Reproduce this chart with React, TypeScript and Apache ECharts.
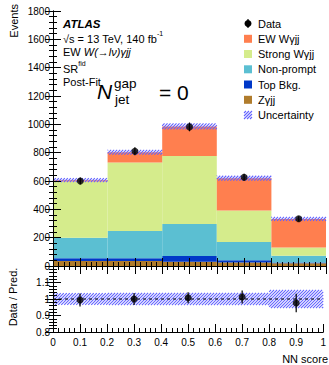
import React, { useEffect, useRef } from 'react';
import * as echarts from 'echarts';

// ---- data ----
const binEdges = [0, 0.2, 0.4, 0.6, 0.8, 1.0];
const binCenters = [0.1, 0.3, 0.5, 0.7, 0.9];
const zgjj = [35, 35, 30, 25, 20];
const topBkg = [20, 20, 40, 15, 5];
const nonPrompt = [145, 192, 227, 130, 48];
const strongWgjj = [396, 483, 480, 221, 57];
const ewWgjj = [10, 73, 208, 229, 202];
const dataVals = [600, 810, 982, 627, 333];
const dataErr = [25, 28, 31, 25, 18];
const predUnc = [14, 17, 21, 17, 14];
const ratioVals = [0.994, 1.0, 1.008, 1.012, 0.976];
const ratioErr = [0.04, 0.037, 0.033, 0.04, 0.056];
const ratioUnc = [0.035, 0.037, 0.037, 0.037, 0.055];

const FONT = 'Liberation Sans, Arial, Helvetica, sans-serif';
const HATCH = '#6262ff';
const COLORS = {
  zgjj: '#b07c2c',
  top: '#0038c8',
  np: '#5bbfd2',
  strong: '#d5ec8c',
  ew: '#ff7f4f',
};

const components = [
  { name: 'Zγjj', vals: zgjj, color: COLORS.zgjj },
  { name: 'Top Bkg.', vals: topBkg, color: COLORS.top },
  { name: 'Non-prompt', vals: nonPrompt, color: COLORS.np },
  { name: 'Strong Wγjj', vals: strongWgjj, color: COLORS.strong },
  { name: 'EW Wγjj', vals: ewWgjj, color: COLORS.ew },
];

function rectItem(color: string) {
  return (params: any, api: any) => {
    const a = api.coord([api.value(0), api.value(3)]);
    const b = api.coord([api.value(1), api.value(2)]);
    return {
      type: 'rect',
      shape: { x: a[0], y: a[1], width: b[0] - a[0], height: b[1] - a[1] },
      style: { fill: color },
    };
  };
}

function hatchItem(params: any, api: any) {
  const a = api.coord([api.value(0), api.value(3)]);
  const b = api.coord([api.value(1), api.value(2)]);
  const x0 = a[0], y0 = a[1], x1 = b[0], y1 = b[1];
  const sp = 3;
  const children: any[] = [];
  const cmin = x0 + y0, cmax = x1 + y1;
  for (let c = Math.ceil(cmin / sp) * sp; c <= cmax; c += sp) {
    const px0 = Math.max(x0, c - y1);
    const px1 = Math.min(x1, c - y0);
    if (px1 - px0 < 0.3) continue;
    children.push({
      type: 'line',
      shape: { x1: px0, y1: c - px0, x2: px1, y2: c - px1 },
      style: { stroke: HATCH, lineWidth: 1.1 },
    });
  }
  return { type: 'group', children };
}

function errItem(params: any, api: any) {
  const x = api.value(0), y = api.value(1), e = api.value(2);
  const t = api.coord([x, y + e]);
  const b = api.coord([x, y - e]);
  return {
    type: 'line',
    shape: { x1: t[0], y1: t[1], x2: b[0], y2: b[1] },
    style: { stroke: '#000', lineWidth: 1.2 },
  };
}

const fmt1 = (v: number) => String(Math.round(v * 10) / 10);

function buildOption() {
  const series: any[] = [];
  const cum = [0, 0, 0, 0, 0];
  components.forEach((c) => {
    const items = c.vals.map((v, i) => {
      const it = [binEdges[i], binEdges[i + 1], cum[i], cum[i] + v];
      cum[i] += v;
      return it;
    });
    series.push({
      type: 'custom',
      name: c.name,
      xAxisIndex: 0,
      yAxisIndex: 0,
      renderItem: rectItem(c.color),
      encode: { x: [0, 1], y: [2, 3] },
      data: items,
      silent: true,
      z: 2,
    });
  });
  const totals = cum.slice();
  series.push({
    type: 'custom',
    name: 'Uncertainty',
    xAxisIndex: 0,
    yAxisIndex: 0,
    renderItem: hatchItem,
    encode: { x: [0, 1], y: [2, 3] },
    data: totals.map((t, i) => [binEdges[i], binEdges[i + 1], t - predUnc[i], t + predUnc[i]]),
    silent: true,
    z: 3,
  });
  series.push({
    type: 'custom',
    xAxisIndex: 0,
    yAxisIndex: 0,
    renderItem: errItem,
    encode: { x: 0, y: 1 },
    data: binCenters.map((x, i) => [x, dataVals[i], dataErr[i]]),
    silent: true,
    z: 4,
  });
  series.push({
    type: 'scatter',
    name: 'Data',
    xAxisIndex: 0,
    yAxisIndex: 0,
    symbol: 'circle',
    symbolSize: 7,
    itemStyle: { color: '#000' },
    data: binCenters.map((x, i) => [x, dataVals[i]]),
    silent: true,
    z: 5,
  });
  // ratio panel
  series.push({
    type: 'custom',
    xAxisIndex: 2,
    yAxisIndex: 2,
    renderItem: hatchItem,
    encode: { x: [0, 1], y: [2, 3] },
    data: ratioUnc.map((u, i) => [binEdges[i], binEdges[i + 1], 1 - u, 1 + u]),
    silent: true,
    z: 3,
  });
  series.push({
    type: 'line',
    xAxisIndex: 2,
    yAxisIndex: 2,
    data: [[0, 1], [1, 1]],
    symbol: 'none',
    lineStyle: { color: '#000', width: 1, type: [3, 3] },
    silent: true,
    z: 4,
  });
  series.push({
    type: 'custom',
    xAxisIndex: 2,
    yAxisIndex: 2,
    renderItem: errItem,
    encode: { x: 0, y: 1 },
    data: binCenters.map((x, i) => [x, ratioVals[i], ratioErr[i]]),
    silent: true,
    z: 4,
  });
  series.push({
    type: 'scatter',
    xAxisIndex: 2,
    yAxisIndex: 2,
    symbol: 'circle',
    symbolSize: 7,
    itemStyle: { color: '#000' },
    data: binCenters.map((x, i) => [x, ratioVals[i]]),
    silent: true,
    z: 5,
  });

  const axisLine = { show: true, lineStyle: { color: '#000', width: 1 } };
  const tick = { show: true, inside: true, length: 8, lineStyle: { color: '#000', width: 1 } };
  const minor = { show: true, splitNumber: 5, length: 4, lineStyle: { color: '#000', width: 1 } };
  const noTick = { show: false };

  const xBase = {
    type: 'value',
    min: 0,
    max: 1,
    interval: 0.1,
    splitLine: { show: false },
    axisLine,
    z: 10,
  };
  const xAxis = [
    { ...xBase, gridIndex: 0, position: 'bottom', axisTick: tick, minorTick: minor, axisLabel: { show: false } },
    { ...xBase, gridIndex: 0, position: 'top', axisTick: tick, minorTick: minor, axisLabel: { show: false } },
    {
      ...xBase,
      gridIndex: 1,
      position: 'bottom',
      axisTick: tick,
      minorTick: minor,
      axisLabel: {
        show: true,
        margin: 5,
        fontSize: 10,
        fontFamily: FONT,
        color: '#000',
        formatter: fmt1,
      },
    },
    { ...xBase, gridIndex: 1, position: 'top', axisTick: noTick, minorTick: noTick, axisLabel: { show: false } },
  ];
  const yMain = {
    type: 'value',
    min: 0,
    max: 1800,
    interval: 200,
    splitLine: { show: false },
    axisLine,
    axisTick: tick,
    minorTick: minor,
    z: 10,
  };
  const yRatio = {
    type: 'value',
    min: 0.8,
    max: 1.2,
    interval: 0.1,
    splitLine: { show: false },
    axisLine,
    axisTick: tick,
    minorTick: minor,
    z: 10,
  };
  const yAxis = [
    {
      ...yMain,
      gridIndex: 0,
      position: 'left',
      axisLabel: {
        show: true,
        margin: 3,
        fontSize: 10,
        fontFamily: FONT,
        color: '#000',
        formatter: (v: number) => String(Math.round(v)),
      },
    },
    { ...yMain, gridIndex: 0, position: 'right', axisLabel: { show: false } },
    {
      ...yRatio,
      gridIndex: 1,
      position: 'left',
      axisLabel: {
        show: true,
        margin: 3,
        fontSize: 10,
        fontFamily: FONT,
        color: '#000',
        formatter: (v: number) => (Math.abs(v - 1.2) < 1e-6 ? '' : fmt1(v)),
      },
    },
    { ...yRatio, gridIndex: 1, position: 'right', axisLabel: { show: false } },
  ];

  // legend + texts as graphic
  const graphic: any[] = [];
  const txt = (x: number, y: number, text: string, extra: any = {}, rotation = 0) => ({
    type: 'text',
    x,
    y,
    rotation,
    silent: true,
    z: 100,
    style: {
      text,
      fill: '#000',
      fontFamily: FONT,
      fontSize: 11,
      align: 'left',
      verticalAlign: 'middle',
      ...extra,
    },
  });
  const lx = 244, lw = 8, tx = 258;
  const rows = [23.5, 38.8, 54, 69.3, 84.5, 99.8, 115];
  // Data row
  graphic.push({ type: 'line', silent: true, z: 100, shape: { x1: lx + lw / 2, y1: rows[0] - 4.5, x2: lx + lw / 2, y2: rows[0] + 4.5 }, style: { stroke: '#000', lineWidth: 1.2 } });
  graphic.push({ type: 'circle', silent: true, z: 100, shape: { cx: lx + lw / 2, cy: rows[0], r: 3.5 }, style: { fill: '#000' } });
  graphic.push(txt(tx, rows[0], 'Data'));
  const legendComps = components.slice().reverse();
  legendComps.forEach((c, i) => {
    const y = rows[i + 1];
    graphic.push({ type: 'rect', silent: true, z: 100, shape: { x: lx, y: y - 4, width: lw, height: 8 }, style: { fill: c.color } });
    graphic.push(txt(tx, y, c.name));
  });
  // uncertainty legend icon
  {
    const y = rows[6];
    const x0 = lx, x1 = lx + lw, y0 = y - 4, y1 = y + 4;
    for (let cc = Math.ceil((x0 + y0) / 3) * 3; cc <= x1 + y1; cc += 3) {
      const px0 = Math.max(x0, cc - y1);
      const px1 = Math.min(x1, cc - y0);
      if (px1 - px0 < 0.3) continue;
      graphic.push({ type: 'line', silent: true, z: 100, shape: { x1: px0, y1: cc - px0, x2: px1, y2: cc - px1 }, style: { stroke: HATCH, lineWidth: 1.1 } });
    }
    graphic.push(txt(tx, y, 'Uncertainty'));
  }

  // ATLAS labels
  const ax = 63;
  graphic.push(txt(ax, 23.5, 'ATLAS', { fontWeight: 'bold', fontStyle: 'italic', fontSize: 11.5 }));
  graphic.push(
    txt(ax, 37, '{a|√s = 13 TeV, 140 fb}{s|-1}', {
      rich: {
        a: { fontFamily: FONT, fontSize: 11, lineHeight: 14, verticalAlign: 'bottom', fill: '#000' },
        s: { fontFamily: FONT, fontSize: 7, lineHeight: 9, verticalAlign: 'top', fill: '#000' },
      },
    })
  );
  graphic.push(
    txt(ax, 52, '{a|EW }{i|W(→lν)γjj}', {
      rich: {
        a: { fontFamily: FONT, fontSize: 11, fill: '#000' },
        i: { fontFamily: FONT, fontSize: 11, fontStyle: 'italic', fill: '#000' },
      },
    })
  );
  graphic.push(
    txt(ax, 67, '{a|SR}{s|fid}', {
      rich: {
        a: { fontFamily: FONT, fontSize: 11, lineHeight: 14, verticalAlign: 'bottom', fill: '#000' },
        s: { fontFamily: FONT, fontSize: 7, lineHeight: 9, verticalAlign: 'top', fill: '#000' },
      },
    })
  );
  graphic.push(txt(ax, 82, 'Post-Fit'));
  // N_jet^gap = 0
  graphic.push(txt(97, 91, 'N', { fontSize: 21, fontStyle: 'italic' }));
  graphic.push(txt(114, 83.5, 'gap', { fontSize: 13.5 }));
  graphic.push(txt(115, 99.5, 'jet', { fontSize: 13.5 }));
  graphic.push(txt(159, 92, '= 0', { fontSize: 21 }));

  // axis titles
  graphic.push(txt(14, 4, 'Events', { align: 'right' }, Math.PI / 2));
  graphic.push(txt(13, 297, 'Data / Pred.', { align: 'center' }, Math.PI / 2));
  graphic.push(txt(328, 359, 'NN score', { align: 'right' }));

  return {
    animation: false,
    backgroundColor: '#fff',
    grid: [
      { left: 53, top: 11, width: 273, height: 255, containLabel: false },
      { left: 53, top: 266, width: 273, height: 66, containLabel: false },
    ],
    xAxis,
    yAxis,
    series,
    graphic,
  };
}

export default function App() {
  const ref = useRef<HTMLDivElement>(null);
  useEffect(() => {
    if (!ref.current) return;
    const chart = echarts.init(ref.current, undefined, { renderer: 'svg' });
    chart.setOption(buildOption() as any);
    return () => chart.dispose();
  }, []);
  return (
    <div
      ref={ref}
      style={{ position: 'fixed', left: 0, top: 0, width: 329, height: 365, background: '#fff' }}
    />
  );
}
